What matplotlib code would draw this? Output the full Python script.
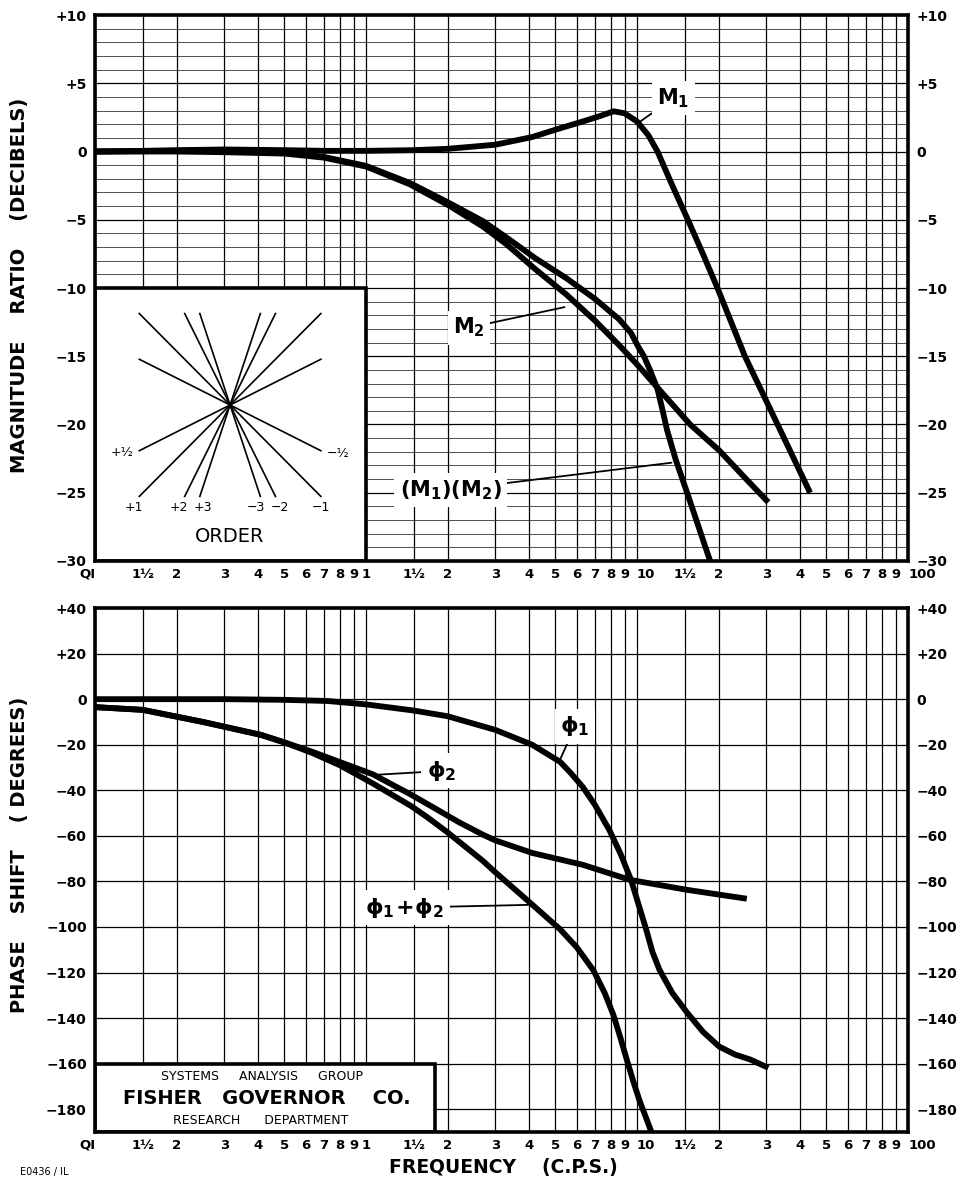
import matplotlib
matplotlib.use("Agg")
import matplotlib.pyplot as plt
import numpy as np
from matplotlib.patches import Rectangle
from matplotlib.ticker import MultipleLocator, NullLocator

plt.rcParams["font.family"] = ["DejaVu Sans"]
plt.rcParams["font.weight"] = "bold"
plt.rcParams["mathtext.fontset"] = "dejavusans"
plt.rcParams["mathtext.default"] = "regular"

# x grid / tick labels (log paper, 3 cycles)
grid_freqs = [m * 10.0 ** e for e in (-1, 0, 1) for m in (1, 1.5, 2, 3, 4, 5, 6, 7, 8, 9)] + [100]
freq_labels = ["QI", "1½", "2", "3", "4", "5", "6", "7", "8", "9",
               "1", "1½", "2", "3", "4", "5", "6", "7", "8", "9",
               "10", "1½", "2", "3", "4", "5", "6", "7", "8", "9", "100"]

mag_ticks = [10, 5, 0, -5, -10, -15, -20, -25, -30]
mag_labels = ["+10", "+5", "0", "−5", "−10", "−15", "−20", "−25", "−30"]
phase_ticks = [40, 20, 0, -20, -40, -60, -80, -100, -120, -140, -160, -180]
phase_labels = ["+40", "+20", "0", "−20", "−40", "−60", "−80", "−100",
                "−120", "−140", "−160", "−180"]

# magnitude curves (dB)
m1_f = [0.1, 0.15, 0.2, 0.3, 0.5, 0.7, 1.0, 1.5, 2.0, 3.0, 4.1, 5.0, 6.3, 7.3,
        8.2, 9.0, 10.0, 11.0, 11.9, 13.5, 15.4, 17.5, 19.8, 25.0, 33.0, 43.5]
m1_db = [0.0, 0.05, 0.1, 0.15, 0.1, 0.05, 0.05, 0.1, 0.2, 0.5, 1.06, 1.6, 2.2, 2.6,
         2.95, 2.8, 2.2, 1.2, 0.0, -2.5, -5.0, -7.5, -10.0, -15.0, -20.0, -25.0]

m2_f = [0.1, 0.2, 0.3, 0.5, 0.7, 1.0, 1.45, 2.04, 2.7, 3.3, 4.2, 5.5, 7.0, 8.6,
        10.0, 11.9, 15.7, 20.1, 25.0, 30.5]
m2_db = [0.0, 0.0, -0.05, -0.15, -0.45, -1.1, -2.4, -4.0, -5.5, -6.8, -8.6, -10.5,
         -12.4, -14.2, -15.6, -17.3, -20.0, -21.9, -23.9, -25.7]

m12_f = [0.1, 0.2, 0.3, 0.5, 0.7, 1.0, 1.45, 2.04, 2.7, 3.3, 4.2, 5.5, 7.0, 8.6,
         9.5, 10.1, 10.6, 11.1, 11.9, 12.4, 12.9, 13.9, 15.3, 18.6]
m12_db = [0.0, 0.05, 0.1, -0.05, -0.4, -1.05, -2.3, -3.8, -5.1, -6.3, -7.8, -9.3,
          -10.8, -12.3, -13.3, -14.3, -15.0, -15.9, -17.4, -18.9, -20.4, -22.6,
          -25.0, -30.0]

# phase curves (degrees)
p1_f = [0.1, 0.2, 0.3, 0.5, 0.72, 1.0, 1.5, 2.0, 3.0, 4.1, 5.2, 5.7, 6.3, 7.0,
        7.9, 8.7, 9.5, 10.8, 11.4, 12.1, 13.5, 15.3, 17.5, 20.1, 23.0, 26.2, 30.5]
p1_deg = [0, 0, 0, -0.3, -0.8, -2.3, -5.0, -7.5, -13.5, -20, -27.5, -32.5, -38.5,
          -46.5, -57.4, -68, -79.3, -101, -111, -118.8, -129, -137.6, -146,
          -152.5, -156, -158.2, -161.8]

p2_f = [0.1, 0.15, 0.25, 0.41, 0.5, 0.63, 1.06, 1.47, 1.77, 2.2, 2.7, 3.0, 4.1,
        6.3, 9.4, 15.3, 25.4]
p2_deg = [-3.5, -4.7, -10, -15.7, -19, -23, -33, -42, -47.5, -54, -59.5, -62,
          -67.5, -72.7, -79.3, -83.7, -87.6]

p12_f = [0.1, 0.15, 0.25, 0.41, 0.5, 0.63, 0.8, 1.06, 1.47, 1.69, 2.0, 2.7, 3.0,
         4.0, 5.2, 6.0, 6.9, 7.6, 8.2, 8.7, 9.1, 9.7, 10.2, 11.3]
p12_deg = [-3.5, -4.7, -10, -15.7, -19, -23.5, -29, -37, -47, -52, -58.5, -71, -76,
           -89, -101, -109, -119, -129, -139, -149, -157, -168, -176, -190]

# slope key ("ORDER") in the inset
orders = [0.5, 1, 2, 3]
order_pos = ["+½", "+1", "+2", "+3"]
order_neg = ["−½", "−1", "−2", "−3"]

fig = plt.figure(figsize=(9.6, 11.85), dpi=100)
ax1 = fig.add_axes([0.099, 0.5266, 0.8469, 0.4607])
ax2 = fig.add_axes([0.099, 0.0447, 0.8469, 0.4422])

for ax in (ax1, ax2):
    ax.set_xscale("log")
    ax.set_xlim(0.1, 100)
    ax.set_xticks(grid_freqs)
    ax.set_xticklabels(freq_labels)
    ax.xaxis.set_minor_locator(NullLocator())
    ax.tick_params(axis="both", which="both", length=0, labelsize=10)
    ax.tick_params(axis="x", pad=5, labelsize=9.5)
    ax.tick_params(axis="y", pad=6, labelright=True)
    for lbl in ax.get_xticklabels():
        if lbl.get_text() in ("10", "100"):
            lbl.set_horizontalalignment("left")
        elif lbl.get_text() == "QI":
            lbl.set_horizontalalignment("right")
    ax.set_axisbelow(True)
    ax.grid(True, which="major", color="black", lw=0.9)
    for s in ax.spines.values():
        s.set_linewidth(2.6)

ax1.set_ylim(-30, 10)
ax1.set_yticks(mag_ticks)
ax1.set_yticklabels(mag_labels)
ax1.yaxis.set_minor_locator(MultipleLocator(1))
ax1.grid(True, which="minor", axis="y", color="#333333", lw=0.6)

ax2.set_ylim(-190, 40)
ax2.set_yticks(phase_ticks)
ax2.set_yticklabels(phase_labels)

lw_curve = 4.2
for f, v in ((m1_f, m1_db), (m2_f, m2_db), (m12_f, m12_db)):
    ax1.plot(f, v, color="black", lw=lw_curve, solid_capstyle="butt",
             solid_joinstyle="round", zorder=4)
for f, v in ((p1_f, p1_deg), (p2_f, p2_deg), (p12_f, p12_deg)):
    ax2.plot(f, v, color="black", lw=lw_curve, solid_capstyle="butt",
             solid_joinstyle="round", zorder=4)

# curve labels
lab_box = dict(boxstyle="square,pad=0.25", fc="white", ec="none")
arrow = dict(arrowstyle="-", lw=1.3, color="black", shrinkA=0, shrinkB=0)
ax1.annotate(r"$M_1$", xy=(10.1, 2.1), xytext=(13.6, 3.9), fontsize=15,
             ha="center", va="center", bbox=lab_box, arrowprops=arrow, zorder=3)
ax1.annotate(r"$M_2$", xy=(5.4, -11.4), xytext=(2.4, -12.9), fontsize=15,
             ha="center", va="center", bbox=lab_box, arrowprops=arrow, zorder=3)
ax1.annotate(r"$(M_1)(M_2)$", xy=(13.4, -22.8), xytext=(2.05, -24.8), fontsize=15,
             ha="center", va="center", bbox=lab_box, arrowprops=arrow, zorder=3)
ax2.annotate(r"$\phi_1$", xy=(5.2, -26.5), xytext=(5.9, -12), fontsize=16,
             ha="center", va="center", bbox=lab_box, arrowprops=arrow, zorder=3)
ax2.annotate(r"$\phi_2$", xy=(1.09, -33.2), xytext=(1.9, -31.5), fontsize=16,
             ha="center", va="center", bbox=lab_box, arrowprops=arrow, zorder=3)
ax2.annotate(r"$\phi_1\!+\!\phi_2$", xy=(3.96, -90.3), xytext=(1.39, -91.5), fontsize=16,
             ha="center", va="center", bbox=lab_box, arrowprops=arrow, zorder=3)

# ORDER inset
ax1.add_patch(Rectangle((0.1, -30), 0.9, 20, fc="white", ec="black", lw=2.6, zorder=2))
fc, dbc = 0.315, -18.57
label_dx = {"+1": -4, "+2": -4, "+3": 2, "−1": 0, "−2": 3, "−3": -3}
for n, lp, ln in zip(orders, order_pos, order_neg):
    d = 0.335 / max(n, 1)
    xs = [fc * 10 ** (-d), fc * 10 ** d]
    ax1.plot(xs, [dbc - 20 * n * d, dbc + 20 * n * d], color="black", lw=1.2, zorder=3)
    ax1.plot(xs, [dbc + 20 * n * d, dbc - 20 * n * d], color="black", lw=1.2, zorder=3)
    if n < 1:
        ax1.annotate(lp, (xs[0], dbc - 20 * n * d), xytext=(-4, -1), textcoords="offset points",
                     ha="right", va="center", fontsize=9, fontweight="normal", zorder=3)
        ax1.annotate(ln, (xs[1], dbc - 20 * n * d), xytext=(4, -2), textcoords="offset points",
                     ha="left", va="center", fontsize=9, fontweight="normal", zorder=3)
    else:
        ax1.annotate(lp, (xs[0], dbc - 20 * n * d), xytext=(label_dx[lp], -3),
                     textcoords="offset points", ha="center", va="top", fontsize=9,
                     fontweight="normal", zorder=3)
        ax1.annotate(ln, (xs[1], dbc - 20 * n * d), xytext=(label_dx[ln], -3),
                     textcoords="offset points", ha="center", va="top", fontsize=9,
                     fontweight="normal", zorder=3)
ax1.text(fc, -28.2, "ORDER", ha="center", va="center", fontsize=14,
         fontweight="normal", zorder=3)

# title block
ax2.add_patch(Rectangle((0.1, -190), 1.7, 30, fc="white", ec="black", lw=2.6, zorder=2))
fig.text(262 / 960, 1 - 1077 / 1185, "SYSTEMS     ANALYSIS     GROUP", ha="center",
         va="center", fontsize=9, fontweight="normal")
fig.text(267 / 960, 1 - 1099 / 1185, "FISHER   GOVERNOR    CO.", ha="center",
         va="center", fontsize=14)
fig.text(261 / 960, 1 - 1120 / 1185, "RESEARCH      DEPARTMENT", ha="center",
         va="center", fontsize=9, fontweight="normal")

# axis titles
fig.text(20 / 960, 1 - 285 / 1185, "MAGNITUDE    RATIO    (DECIBELS)", rotation=90,
         ha="center", va="center", fontsize=14)
fig.text(20 / 960, 1 - 855 / 1185, "PHASE    SHIFT    ( DEGREES)", rotation=90,
         ha="center", va="center", fontsize=14)
fig.text(503 / 960, 1 - 1168 / 1185, "FREQUENCY    (C.P.S.)", ha="center",
         va="center", fontsize=13.5)
fig.text(20 / 960, 1 - 1172 / 1185, "E0436 / IL", ha="left", va="center",
         fontsize=7, fontweight="normal")

fig.savefig("out.png", dpi=100)
